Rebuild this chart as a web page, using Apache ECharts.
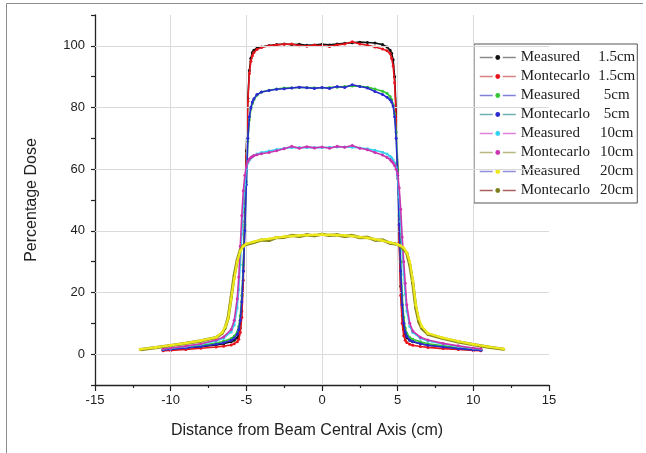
<!DOCTYPE html>
<html>
<head>
<meta charset="utf-8">
<script src="https://cdn.jsdelivr.net/npm/echarts@6/dist/echarts.min.js"></script>
<style>
html,body{margin:0;padding:0;background:#fff;}
#chart{width:646px;height:453px;}
</style>
</head>
<body>
<div id="chart"></div>
<script>
// ---- Data ----
const xProfile = [-10.5,-10,-9,-8,-7,-6.5,-6,-5.8,-5.6,-5.5,-5.4,-5.3,-5.2,-5.1,-5,-4.9,-4.8,-4.7,-4.6,-4.5,-4.3,-4,
  -3.5,-3,-2.5,-2,-1.5,-1,-0.5,0,0.5,1,1.5,2,2.5,3,3.5,4,
  4.3,4.5,4.6,4.7,4.8,4.9,5,5.1,5.2,5.3,5.4,5.5,5.6,5.8,6,6.5,7,8,9,10,10.5];
const x20 = [-12,-11,-10,-9,-8,-7,-6.6,-6.4,-6.2,-6,-5.8,-5.6,-5.4,-5.2,-5,
  -4.5,-4,-3.5,-3,-2.5,-2,-1.5,-1,-0.5,0,0.5,1,1.5,2,2.5,3,3.5,4,4.5,5,
  5.2,5.4,5.6,5.8,6,6.2,6.4,6.6,7,8,9,10,11,12];

const measured15 = [1.3,1.5,1.9,2.4,3.0,3.4,4.0,4.5,5.3,6.2,8.5,14,27,46,66,83,92,96,97.8,98.6,99.2,99.6,
  100.1,100.4,100.6,100.4,100.5,100.2,100.3,100.5,100.3,100.6,100.8,101.0,101.2,101.1,100.9,100.4,
  99.6,98.6,97.6,95.5,90,79,60,39,22,12.5,8,6.2,5.3,4.5,4.0,3.4,2.9,2.4,1.9,1.5,1.3];
const montecarlo15 = [1.1,1.2,1.5,1.9,2.3,2.6,3.0,3.4,4.0,4.8,7,12,24,43,64,82,91,95,96.8,97.8,98.8,99.5,
  100,100.3,100.5,100.6,100,99.9,100.2,100,99.8,100.3,100.6,101.3,100.6,100.2,99.6,99.0,
  98.4,97.5,96,93.5,88,77,57,36,19,10,6,4.5,3.8,3.2,2.9,2.5,2.2,1.8,1.5,1.2,1.1];
const measured5 = [1.6,1.8,2.3,2.8,3.6,4.2,5.1,5.8,7.2,9,12.5,19,29,42,56,69,76,79.5,81.3,82.5,84,85,
  85.6,86,86.3,86.4,86.5,86.5,86.4,86.4,86.5,86.6,86.8,87,86.9,86.6,86,85.3,
  84.6,83.6,82.6,81,78,72,60,45,30,19,12,8.5,6.8,5.4,4.8,4.0,3.4,2.7,2.1,1.7,1.5];
const montecarlo5 = [1.4,1.6,2.0,2.5,3.2,3.7,4.5,5.2,6.5,8,11,17,27,40,55,70,77,80,81.8,82.8,84.2,85,
  85.5,85.9,86.1,86.3,86.6,86.4,86.2,86.5,86.2,86.8,86.5,87.4,86.8,86.3,85.2,84.2,
  83.3,82.5,81.8,80.5,77,70,58,42,27,16,10,7.2,5.8,4.6,4.1,3.4,2.9,2.3,1.8,1.4,1.3];
const measured10 = [1.7,1.9,2.4,3.2,4.3,5.2,7.2,9.5,15,21,29,39,48,55,60,62,63,63.6,64,64.4,64.9,65.4,
  65.9,66.4,66.8,67,67,67,67,67,67.1,67.2,67.2,67.1,66.9,66.6,66.1,65.5,
  64.9,64.2,63.7,63,62,60.5,57,51,43,34,26,19.5,14,9,7,5.2,4.3,3.3,2.5,1.9,1.7];
const montecarlo10 = [1.8,2.0,2.6,3.4,4.6,5.6,8,11,18,25,35,45,53,58,61,62.5,63.3,63.8,64.1,64.4,64.7,65,
  65.4,66,66.6,67.4,66.8,67.3,66.9,67.2,66.8,67.4,67.1,67.7,66.8,66.3,65.4,64.6,
  63.8,63.1,62.6,62,61.2,60,58.5,54,47,38,30,23,16,10,7.5,5.5,4.6,3.5,2.7,2.0,1.8];
const measured20 = [1.6,2.2,2.9,3.6,4.4,5.5,7,8.8,11.5,18,24.5,30,33.5,35,35.8,
  36.5,37.1,37.4,37.8,38.1,38.3,38.5,38.6,38.7,38.8,38.7,38.6,38.5,38.3,38,37.7,37.3,36.8,36.2,35.6,
  35.2,34.5,33,30,24,16,11.5,9,6.8,5.3,4.2,3.2,2.4,1.7];
const montecarlo20 = [1.5,2.1,2.8,3.5,4.3,5.4,6.8,8.5,11.8,18.5,25.5,30.5,33.8,35.2,35.6,
  36.2,37.0,36.9,37.8,37.9,38.5,38.2,38.7,38.4,38.9,38.5,38.7,38.2,38.5,37.8,37.9,37.0,37.0,36.0,35.6,
  35,34,32.8,29,23,15,10.5,8.3,6.5,5.1,4.0,3.1,2.3,1.6];

const seriesNames = ['Measured 1.5cm','Montecarlo 1.5cm','Measured 5cm','Montecarlo 5cm',
  'Measured 10cm','Montecarlo 10cm','Measured 20cm','Montecarlo 20cm'];
const seriesX = [xProfile,xProfile,xProfile,xProfile,xProfile,xProfile,x20,x20];
const seriesY = [measured15,montecarlo15,measured5,montecarlo5,measured10,montecarlo10,measured20,montecarlo20];
const xTicks = [-15,-10,-5,0,5,10,15];
const yTicks = [0,20,40,60,80,100];

// ---- Styles ----
const markColors = ['#111111','#e8141c','#33c833','#2a2ad0','#33d0f0','#cc33b0','#ece81c','#7e7e1a'];
const lineColors = ['#111111','#e8141c','#33c833','#2a2ad0','#33d0f0','#cc33b0','#ece81c','#8a8a22'];
const lineWidths = [1.6,1.6,1.6,1.6,1.6,1.6,2.2,3.2];
const zOrder = [3,4,5,6,7,8,10,9];
const legendLineColors = ['#8a8a8a','#d98080','#8080d8','#70b0b0','#e080d8','#b8b880','#9090d8','#a86060'];

const chart = echarts.init(document.getElementById('chart'), null, {renderer:'canvas'});

const series = seriesNames.map((name, i) => ({
  name: name,
  type: 'line',
  data: seriesX[i].map((x, k) => [x, seriesY[i][k]]),
  symbol: 'circle',
  symbolSize: 3,
  showSymbol: true,
  lineStyle: {color: lineColors[i], width: lineWidths[i]},
  itemStyle: {color: markColors[i]},
  z: zOrder[i],
  animation: false
}));

// gridline helper series
series.push({
  name: '_grid',
  type: 'line',
  data: [],
  z: 1,
  silent: true,
  markLine: {
    silent: true,
    symbol: ['none','none'],
    label: {show: false},
    animation: false,
    lineStyle: {color: '#dadada', width: 1, type: 'solid'},
    data: yTicks.map(v => ({yAxis: v})).concat(xTicks.filter(v => v > -15 && v < 15).map(v => ({xAxis: v})))
  }
});

const option = {
  backgroundColor: '#ffffff',
  animation: false,
  grid: {left: 95, right: 97, top: 15, bottom: 68, containLabel: false, outerBoundsMode: 'none'},
  xAxis: {
    type: 'value', min: -15, max: 15, interval: 5,
    name: 'Distance from Beam Central Axis (cm)',
    nameLocation: 'middle', nameGap: 38,
    nameTextStyle: {fontFamily: 'Liberation Sans', fontSize: 16, color: '#222', padding: [0, 30, 0, 0]},
    axisLine: {show: true, onZero: false, lineStyle: {color: '#222', width: 1.3}},
    axisTick: {show: true, inside: false, length: 6, lineStyle: {color: '#222', width: 1.2}},
    minorTick: {show: true, splitNumber: 2, length: 3, lineStyle: {color: '#222', width: 1.2}},
    axisLabel: {fontFamily: 'Liberation Sans', fontSize: 13, color: '#222', margin: 9,
      formatter: v => xTicks.indexOf(v) >= 0 ? String(v) : ''},
    splitLine: {show: false}
  },
  yAxis: {
    type: 'value', min: -10, max: 110, interval: 10,
    name: 'Percentage Dose',
    nameLocation: 'middle', nameGap: 55,
    nameTextStyle: {fontFamily: 'Liberation Sans', fontSize: 16, color: '#222'},
    axisLine: {show: true, onZero: false, lineStyle: {color: '#222', width: 1.3}},
    axisTick: {show: true, inside: false, length: 4, lineStyle: {color: '#222', width: 1.2}},
    axisLabel: {fontFamily: 'Liberation Sans', fontSize: 13, color: '#222', margin: 10,
      formatter: v => yTicks.indexOf(v) >= 0 ? String(v) : ''},
    splitLine: {show: false}
  },
  legend: {
    orient: 'vertical',
    left: 474, top: 44,
    padding: [5, 2, 4, 5],
    itemGap: 2,
    itemWidth: 36,
    itemHeight: 6,
    borderColor: '#555',
    borderWidth: 1,
    backgroundColor: '#fff',
    lineStyle: {type: [13, 10], width: 1.5},
    data: seriesNames.map((n, i) => ({
      name: n,
      itemStyle: {color: markColors[i]},
      lineStyle: {color: legendLineColors[i], width: 1.5, type: [13, 10]}
    })),
    formatter: function (name) {
      const parts = name.split(' ');
      return '{a|' + parts[0] + '}{b|' + parts[1] + '}';
    },
    textStyle: {
      fontFamily: 'Liberation Serif', fontSize: 15, color: '#222', lineHeight: 17,
      rich: {
        a: {fontFamily: 'Liberation Serif', fontSize: 15, color: '#222', width: 78, lineHeight: 17},
        b: {fontFamily: 'Liberation Serif', fontSize: 15, color: '#222', width: 36, align: 'center', lineHeight: 17}
      }
    }
  },
  graphic: [
    {type: 'line', shape: {x1: 6.5, y1: 3.5, x2: 643, y2: 3.5}, style: {stroke: '#8c8c8c', lineWidth: 1}, silent: true},
    {type: 'line', shape: {x1: 6.5, y1: 3.5, x2: 6.5, y2: 453}, style: {stroke: '#8c8c8c', lineWidth: 1}, silent: true}
  ],
  series: series
};

chart.setOption(option);
</script>
</body>
</html>
